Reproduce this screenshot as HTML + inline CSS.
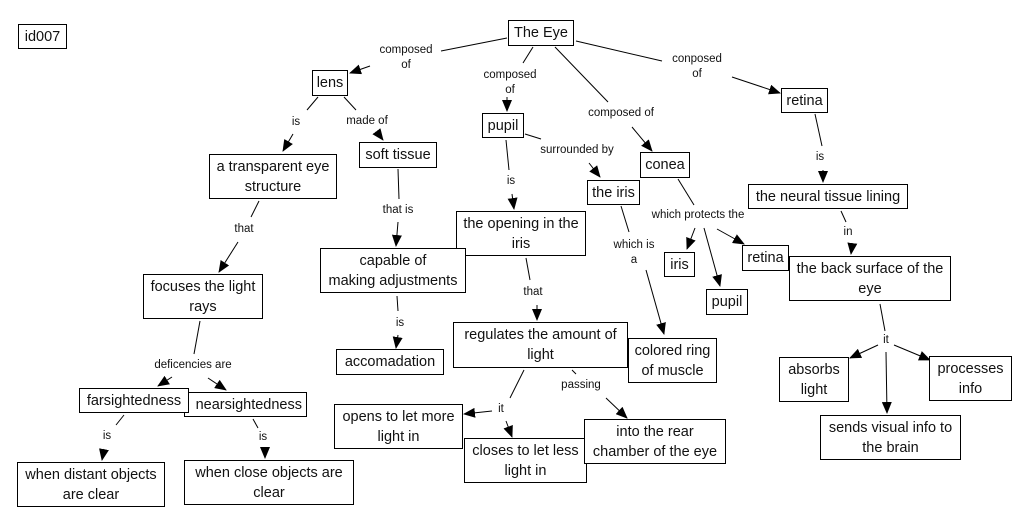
<!DOCTYPE html>
<html><head><meta charset="utf-8"><style>
body{margin:0;width:1025px;height:527px;background:#fff;position:relative;overflow:hidden;font-family:"Liberation Sans",Arial,sans-serif}
.n{position:absolute;box-sizing:border-box;border:1px solid #000;background:#fff;font-size:14.5px;line-height:20px;text-align:center;display:flex;align-items:center;justify-content:center;color:#111;white-space:nowrap;overflow:hidden}
.l{position:absolute;font-size:11.5px;line-height:15px;text-align:center;color:#111;transform:translateX(-50%);white-space:nowrap}
svg{position:absolute;left:0;top:0}
</style></head><body>
<svg width="1025" height="527">
<defs><marker id="a" markerWidth="12" markerHeight="10" refX="11" refY="5" orient="auto" markerUnits="userSpaceOnUse"><path d="M0,0 L12,5 L0,10 z" fill="#000"/></marker></defs>
<g stroke="#000" stroke-width="1" fill="none">
<line x1="507" y1="38" x2="441" y2="51"/><line x1="370" y1="66" x2="350" y2="73" marker-end="url(#a)"/>
<line x1="533" y1="47" x2="523" y2="63"/><line x1="507" y1="97" x2="507" y2="111" marker-end="url(#a)"/>
<line x1="555" y1="47" x2="608" y2="102"/><line x1="632" y1="127" x2="652" y2="151" marker-end="url(#a)"/>
<line x1="576" y1="41" x2="662" y2="61"/><line x1="732" y1="77" x2="780" y2="93" marker-end="url(#a)"/>
<line x1="318" y1="97" x2="307" y2="110"/><line x1="293" y1="134" x2="283" y2="151" marker-end="url(#a)"/>
<line x1="344" y1="97" x2="356" y2="110"/><line x1="377" y1="132" x2="383" y2="140" marker-end="url(#a)"/>
<line x1="259" y1="201" x2="251" y2="217"/><line x1="238" y1="242" x2="219" y2="272" marker-end="url(#a)"/>
<line x1="398" y1="169" x2="399" y2="199"/><line x1="398" y1="222" x2="396" y2="246" marker-end="url(#a)"/>
<line x1="397" y1="296" x2="398" y2="311"/><line x1="398" y1="335" x2="396" y2="348" marker-end="url(#a)"/>
<line x1="200" y1="321" x2="194" y2="354"/><line x1="172" y1="377" x2="158" y2="386" marker-end="url(#a)"/><line x1="208" y1="378" x2="226" y2="390" marker-end="url(#a)"/>
<line x1="124" y1="415" x2="116" y2="425"/><line x1="104" y1="449" x2="102" y2="460" marker-end="url(#a)"/>
<line x1="253" y1="419" x2="258" y2="428"/><line x1="265" y1="448" x2="265" y2="458" marker-end="url(#a)"/>
<line x1="506" y1="140" x2="509" y2="170"/><line x1="512" y1="194" x2="514" y2="209" marker-end="url(#a)"/>
<line x1="525" y1="134" x2="541" y2="139"/><line x1="589" y1="163" x2="600" y2="177" marker-end="url(#a)"/>
<line x1="526" y1="258" x2="530" y2="280"/><line x1="537" y1="305" x2="537" y2="320" marker-end="url(#a)"/>
<line x1="621" y1="206" x2="629" y2="232"/><line x1="646" y1="270" x2="664" y2="334" marker-end="url(#a)"/>
<line x1="678" y1="179" x2="694" y2="205"/><line x1="695" y1="228" x2="687" y2="249" marker-end="url(#a)"/><line x1="704" y1="228" x2="720" y2="286" marker-end="url(#a)"/><line x1="717" y1="229" x2="744" y2="244" marker-end="url(#a)"/>
<line x1="815" y1="114" x2="822" y2="146"/><line x1="823" y1="170" x2="823" y2="182" marker-end="url(#a)"/>
<line x1="841" y1="211" x2="846" y2="222"/><line x1="852" y1="246" x2="851" y2="254" marker-end="url(#a)"/>
<line x1="880" y1="304" x2="885" y2="331"/><line x1="878" y1="345" x2="850" y2="358" marker-end="url(#a)"/><line x1="894" y1="345" x2="930" y2="360" marker-end="url(#a)"/><line x1="886" y1="352" x2="887" y2="413" marker-end="url(#a)"/>
<line x1="524" y1="370" x2="510" y2="398"/><line x1="492" y1="411" x2="464" y2="414" marker-end="url(#a)"/><line x1="506" y1="421" x2="512" y2="437" marker-end="url(#a)"/>
<line x1="572" y1="370" x2="576" y2="374"/><line x1="606" y1="398" x2="627" y2="418" marker-end="url(#a)"/>
</g></svg>

<div class="l" style="left:406px;top:43px">composed<br>of</div>
<div class="l" style="left:510px;top:68px">composed<br>of</div>
<div class="l" style="left:621px;top:106px">composed of</div>
<div class="l" style="left:697px;top:52px">conposed<br>of</div>
<div class="l" style="left:296px;top:115px">is</div>
<div class="l" style="left:367px;top:114px">made of</div>
<div class="l" style="left:244px;top:222px">that</div>
<div class="l" style="left:398px;top:203px">that is</div>
<div class="l" style="left:400px;top:316px">is</div>
<div class="l" style="left:193px;top:358px">deficencies are</div>
<div class="l" style="left:107px;top:429px">is</div>
<div class="l" style="left:263px;top:430px">is</div>
<div class="l" style="left:511px;top:174px">is</div>
<div class="l" style="left:577px;top:143px">surrounded by</div>
<div class="l" style="left:533px;top:285px">that</div>
<div class="l" style="left:634px;top:238px">which is<br>a</div>
<div class="l" style="left:698px;top:208px">which protects the</div>
<div class="l" style="left:820px;top:150px">is</div>
<div class="l" style="left:848px;top:225px">in</div>
<div class="l" style="left:886px;top:333px">it</div>
<div class="l" style="left:501px;top:402px">it</div>
<div class="l" style="left:581px;top:378px">passing</div>

<div class="n" style="left:18px;top:24px;width:49px;height:25px">id007</div>
<div class="n" style="left:508px;top:20px;width:66px;height:26px">The Eye</div>
<div class="n" style="left:312px;top:70px;width:36px;height:26px">lens</div>
<div class="n" style="left:209px;top:154px;width:128px;height:45px">a transparent eye<br>structure</div>
<div class="n" style="left:359px;top:142px;width:78px;height:26px">soft tissue</div>
<div class="n" style="left:482px;top:113px;width:42px;height:25px">pupil</div>
<div class="n" style="left:456px;top:211px;width:130px;height:45px">the opening in the<br>iris</div>
<div class="n" style="left:320px;top:248px;width:146px;height:45px">capable of<br>making adjustments</div>
<div class="n" style="left:587px;top:180px;width:53px;height:25px">the iris</div>
<div class="n" style="left:640px;top:152px;width:50px;height:26px">conea</div>
<div class="n" style="left:781px;top:88px;width:47px;height:25px">retina</div>
<div class="n" style="left:748px;top:184px;width:160px;height:25px">the neural tissue lining</div>
<div class="n" style="left:664px;top:252px;width:31px;height:25px">iris</div>
<div class="n" style="left:706px;top:289px;width:42px;height:26px">pupil</div>
<div class="n" style="left:742px;top:245px;width:47px;height:26px">retina</div>
<div class="n" style="left:789px;top:256px;width:162px;height:45px">the back surface of the<br>eye</div>
<div class="n" style="left:143px;top:274px;width:120px;height:45px">focuses the light<br>rays</div>
<div class="n" style="left:336px;top:349px;width:108px;height:26px">accomadation</div>
<div class="n" style="left:453px;top:322px;width:175px;height:46px">regulates the amount of<br>light</div>
<div class="n" style="left:628px;top:338px;width:89px;height:45px">colored ring<br>of muscle</div>
<div class="n" style="left:184px;top:392px;width:123px;height:25px;justify-content:flex-end;padding-right:4px">nearsightedness</div>
<div class="n" style="left:79px;top:388px;width:110px;height:25px">farsightedness</div>
<div class="n" style="left:17px;top:462px;width:148px;height:45px">when distant objects<br>are clear</div>
<div class="n" style="left:184px;top:460px;width:170px;height:45px">when close objects are<br>clear</div>
<div class="n" style="left:334px;top:404px;width:129px;height:45px">opens to let more<br>light in</div>
<div class="n" style="left:464px;top:438px;width:123px;height:45px">closes to let less<br>light in</div>
<div class="n" style="left:584px;top:419px;width:142px;height:45px">into the rear<br>chamber of the eye</div>
<div class="n" style="left:779px;top:357px;width:70px;height:45px">absorbs<br>light</div>
<div class="n" style="left:929px;top:356px;width:83px;height:45px">processes<br>info</div>
<div class="n" style="left:820px;top:415px;width:141px;height:45px">sends visual info to<br>the brain</div>
</body></html>
